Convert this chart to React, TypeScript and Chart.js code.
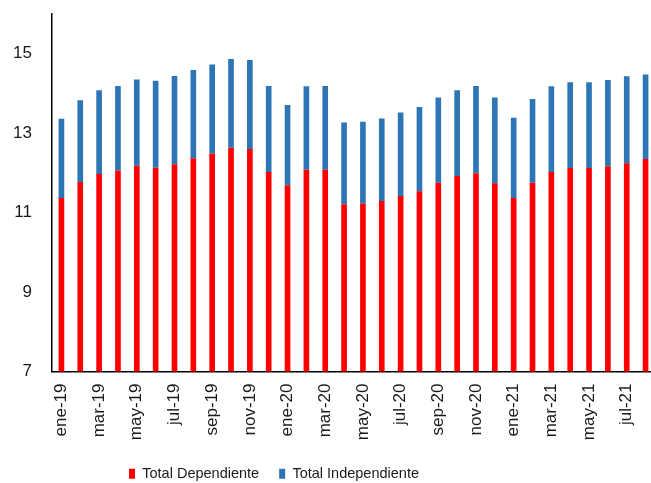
import React, { useEffect, useRef } from "react";
import { Chart, registerables } from "chart.js";

Chart.register(...registerables);

const categories = [
  "ene-19", "feb-19", "mar-19", "abr-19", "may-19", "jun-19", "jul-19", "ago-19",
  "sep-19", "oct-19", "nov-19", "dic-19", "ene-20", "feb-20", "mar-20", "abr-20",
  "may-20", "jun-20", "jul-20", "ago-20", "sep-20", "oct-20", "nov-20", "dic-20",
  "ene-21", "feb-21", "mar-21", "abr-21", "may-21", "jun-21", "jul-21", "ago-21",
];

const dependiente = [
  11.37, 11.77, 11.97, 12.06, 12.18, 12.13, 12.22, 12.37,
  12.49, 12.63, 12.60, 12.02, 11.69, 12.08, 12.08, 11.21,
  11.23, 11.29, 11.42, 11.54, 11.75, 11.92, 11.99, 11.74,
  11.37, 11.75, 12.02, 12.12, 12.12, 12.17, 12.24, 12.35,
];

const totales = [
  13.36, 13.83, 14.08, 14.19, 14.35, 14.32, 14.44, 14.59,
  14.73, 14.87, 14.84, 14.19, 13.71, 14.18, 14.19, 13.27,
  13.29, 13.37, 13.52, 13.66, 13.90, 14.08, 14.19, 13.90,
  13.39, 13.86, 14.18, 14.28, 14.28, 14.34, 14.43, 14.48,
];

const independiente = totales.map((t, i) => +(t - dependiente[i]).toFixed(2));

const yTicks = [7, 9, 11, 13, 15];

const LEGEND_SHIFT = 60;

const legendShift = {
  id: "legendShift",
  afterLayout(chart: any) {
    if (chart.legend) {
      chart.legend.left -= LEGEND_SHIFT;
      chart.legend.right -= LEGEND_SHIFT;
    }
  },
};

export default function App() {
  const ref = useRef<HTMLCanvasElement | null>(null);

  useEffect(() => {
    document.body.style.overflow = "hidden";
    const canvas = ref.current;
    if (!canvas) return;
    const font = "'Liberation Sans', Arial, sans-serif";
    const chart = new Chart(canvas, {
      type: "bar",
      data: {
        labels: categories,
        datasets: [
          {
            label: "Total Dependiente",
            data: dependiente,
            backgroundColor: "#FF0000",
            stack: "s",
          },
          {
            label: "Total Independiente",
            data: independiente,
            backgroundColor: "#2E75B6",
            stack: "s",
          },
        ],
      },
      plugins: [legendShift],
      options: {
        responsive: false,
        animation: false,
        layout: { padding: { left: 13, top: 14, right: 1, bottom: -8 } },
        datasets: {
          bar: { barPercentage: 0.3, categoryPercentage: 1 },
        },
        plugins: {
          legend: {
            position: "bottom",
            labels: {
              boxWidth: 6,
              boxHeight: 10,
              padding: 20,
              color: "#1a1a1a",
              font: { family: font, size: 14.5 },
            },
          },
          tooltip: { enabled: false },
        },
        scales: {
          x: {
            stacked: true,
            grid: { display: false, drawTicks: false },
            border: { display: true, color: "#000", width: 1.5 },
            afterFit: (s: any) => {
              s.paddingLeft = 0;
              s.paddingRight = 0;
              s.height = 75;
            },
            ticks: {
              autoSkip: false,
              maxRotation: 90,
              minRotation: 90,
              padding: 12,
              color: "#1a1a1a",
              font: { family: font, size: 17 },
              callback: (_v: any, i: number) => (i % 2 === 0 ? categories[i] : ""),
            },
          },
          y: {
            stacked: true,
            min: 7,
            max: 16,
            grid: { display: false, drawTicks: false },
            border: { display: true, color: "#000", width: 1.5 },
            afterBuildTicks: (axis: any) => {
              axis.ticks = yTicks.map((v) => ({ value: v }));
            },
            afterFit: (s: any) => {
              s.paddingTop = 0;
              s.paddingBottom = 0;
              s.width = 39;
            },
            ticks: {
              padding: 20,
              color: "#1a1a1a",
              font: { family: font, size: 17 },
            },
          },
        },
      },
    });
    return () => chart.destroy();
  }, []);

  return (
    <div
      style={{
        position: "fixed",
        left: 0,
        top: 0,
        width: 651,
        height: 483,
        overflow: "hidden",
        background: "#fff",
      }}
    >
      <canvas ref={ref} width={656} height={483} style={{ display: "block" }} />
    </div>
  );
}
